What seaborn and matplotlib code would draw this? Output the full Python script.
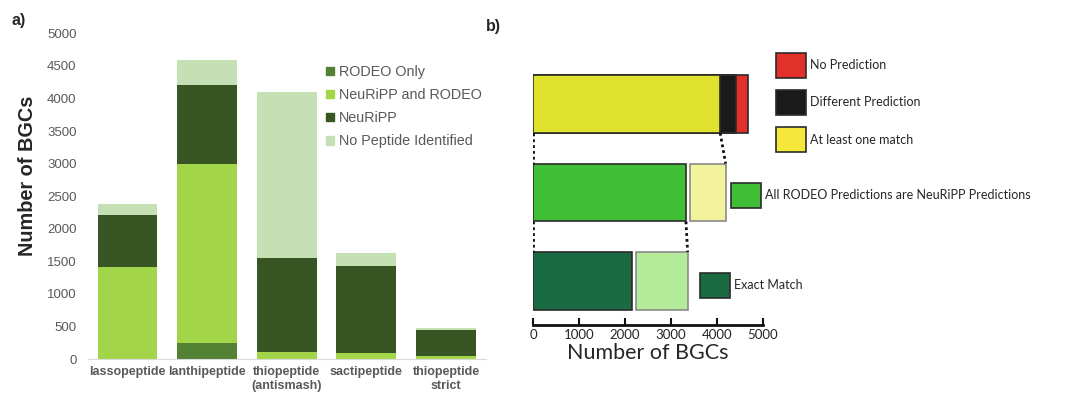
import numpy as np
import pandas as pd
import seaborn as sns
import matplotlib.pyplot as plt
from matplotlib.patches import Patch

# Data - panel a (stacked counts per RiPP class)
CLASSES = ['lassopeptide', 'lanthipeptide', 'thiopeptide\n(antismash)', 'sactipeptide', 'thiopeptide\nstrict']
RODEO_ONLY = [0, 245, 0, 0, 0]
NEURIPP_AND_RODEO = [1420, 2755, 112, 97, 51]
NEURIPP = [790, 1210, 1434, 1337, 398]
NO_PEPTIDE = [170, 385, 2551, 188, 25]

# Data - panel b
ROWS = ['all', 'rodeo', 'exact']
AT_LEAST_ONE = 4074
DIFFERENT = 349
NO_PRED = 255
ALL_RODEO = 3327
ALL_RODEO_REST = 771
EXACT = 2143
EXACT_REST = 1127

sns.set_style('white')
plt.rcParams['font.family'] = ['Liberation Sans', 'DejaVu Sans']

fig = plt.figure(figsize=(10.73, 3.97), dpi=100)

# ---------------- panel a ----------------
ax1 = fig.add_axes([0.0817, 0.0957, 0.371, 0.8204])
df = pd.DataFrame({'cls': CLASSES, 'ro': RODEO_ONLY, 'nr': NEURIPP_AND_RODEO,
                   'n': NEURIPP, 'np': NO_PEPTIDE})
df['c1'] = df['ro']
df['c2'] = df['c1'] + df['nr']
df['c3'] = df['c2'] + df['n']
df['c4'] = df['c3'] + df['np']

cols_a = {'c4': '#c5e0b4', 'c3': '#375623', 'c2': '#a2d549', 'c1': '#548235'}
for col in ['c4', 'c3', 'c2', 'c1']:
    sns.barplot(data=df, x='cls', y=col, color=cols_a[col], width=0.75,
                errorbar=None, saturation=1, linewidth=0, ax=ax1)

ax1.set_ylim(0, 5000)
ax1.set_yticks(np.arange(0, 5001, 500))
ax1.set_xlabel('')
ax1.set_ylabel('Number of BGCs', fontsize=14.3, fontweight='bold')
ax1.yaxis.set_label_coords(-0.128, 0.564)
ax1.tick_params(axis='y', length=0, pad=8, labelsize=9.5, labelcolor='#595959')
ax1.tick_params(axis='x', length=0, pad=5, labelsize=9, labelcolor='#595959')
for lab in ax1.get_xticklabels():
    lab.set_fontweight('bold')
for s in ['top', 'right', 'left']:
    ax1.spines[s].set_visible(False)
ax1.spines['bottom'].set_color('#d9d9d9')

handles_a = [Patch(color=cols_a['c1'], label='RODEO Only'),
             Patch(color=cols_a['c2'], label='NeuRiPP and RODEO'),
             Patch(color=cols_a['c3'], label='NeuRiPP'),
             Patch(color=cols_a['c4'], label='No Peptide Identified')]
leg = ax1.legend(handles=handles_a, loc='upper left', bbox_to_anchor=(326 / 1073, 1 - 65 / 397),
                 bbox_transform=fig.transFigure, frameon=False, fontsize=10.4,
                 handlelength=0.55, handleheight=0.55, handletextpad=0.35,
                 labelspacing=0.63, borderpad=0, borderaxespad=0)
for t in leg.get_texts():
    t.set_color('#595959')

fig.text(12 / 1073, 1 - 25 / 397, 'a)', fontsize=11.5, fontweight='bold')
fig.text(486 / 1073, 1 - 31 / 397, 'b)', fontsize=11.5, fontweight='bold')

# ---------------- panel b ----------------
lato = ['Lato', 'DejaVu Sans']
ax2 = fig.add_axes([0.497, 0.1807, 0.2138, 0.6688])
h = 0.655
gap = 94
edge = '#2b2b2b'

top_cols = [(AT_LEAST_ONE + DIFFERENT + NO_PRED, '#e2302a'),
            (AT_LEAST_ONE + DIFFERENT, '#1a1a1a'),
            (AT_LEAST_ONE, '#e0e22e')]
for val, c in top_cols:
    sns.barplot(x=[val], y=['all'], order=ROWS, orient='h', color=c, width=h,
                errorbar=None, saturation=1, edgecolor=edge, linewidth=1.2, ax=ax2)
sns.barplot(x=[ALL_RODEO], y=['rodeo'], order=ROWS, orient='h', color='#40bf36', width=h,
            errorbar=None, saturation=1, edgecolor=edge, linewidth=1.2, ax=ax2)
sns.barplot(x=[EXACT], y=['exact'], order=ROWS, orient='h', color='#1a6a42', width=h,
            errorbar=None, saturation=1, edgecolor=edge, linewidth=1.2, ax=ax2)

ax2.barh(ROWS.index('rodeo'), ALL_RODEO_REST, left=ALL_RODEO + gap, height=h,
         color='#f3f39c', edgecolor='#8a8a8a', linewidth=1.2)
ax2.barh(ROWS.index('exact'), EXACT_REST, left=EXACT + gap, height=h,
         color='#b3eb9b', edgecolor='#8a8a8a', linewidth=1.2)

# dotted zoom connectors
dot = dict(color='#111111', linestyle=(0, (1, 1.1)), linewidth=2.0)
y0b, y1t = 0 + h / 2, 1 - h / 2
ax2.plot([0, 0], [y0b, y1t], **dot)
ax2.plot([AT_LEAST_ONE, ALL_RODEO + gap + ALL_RODEO_REST], [y0b, y1t], **dot)
y1b, y2t = 1 + h / 2, 2 - h / 2
ax2.plot([0, 0], [y1b, y2t], **dot)
ax2.plot([ALL_RODEO, EXACT + gap + EXACT_REST], [y1b, y2t], **dot)

ax2.set_xlim(0, 5000)
ax2.set_ylim(2.5, -0.5)
ax2.set_xticks(np.arange(0, 5001, 1000))
ax2.set_yticks([])
ax2.set_ylabel('')
ax2.set_xlabel('Number of BGCs', fontsize=15.5, family=lato, labelpad=1)
ax2.tick_params(axis='x', bottom=True, direction='in', length=5, width=1.5, pad=3,
                labelsize=9.5, color='#111111')
for lab in ax2.get_xticklabels():
    lab.set_family(lato)
for s in ['top', 'right', 'left']:
    ax2.spines[s].set_visible(False)
ax2.spines['bottom'].set_linewidth(2)
ax2.spines['bottom'].set_color('#111111')


def box_legend(handles, x, y):
    lg = fig.legend(handles=handles, loc='upper left', bbox_to_anchor=(x / 1073, 1 - y / 397),
                    frameon=False, prop={'family': lato, 'size': 9},
                    handlelength=2.4, handleheight=2.7, handletextpad=0.3,
                    labelspacing=0.97, borderpad=0, borderaxespad=0)
    return lg


box_legend([Patch(facecolor='#e2302a', edgecolor=edge, linewidth=1.2, label='No Prediction'),
            Patch(facecolor='#1a1a1a', edgecolor=edge, linewidth=1.2, label='Different Prediction'),
            Patch(facecolor='#f5e83a', edgecolor=edge, linewidth=1.2, label='At least one match')],
           776, 53)
box_legend([Patch(facecolor='#40bf36', edgecolor=edge, linewidth=1.2,
                  label='All RODEO Predictions are NeuRiPP Predictions')], 731, 183)
box_legend([Patch(facecolor='#1a6a42', edgecolor=edge, linewidth=1.2, label='Exact Match')],
           700, 273)

fig.savefig('out.png', dpi=100)
